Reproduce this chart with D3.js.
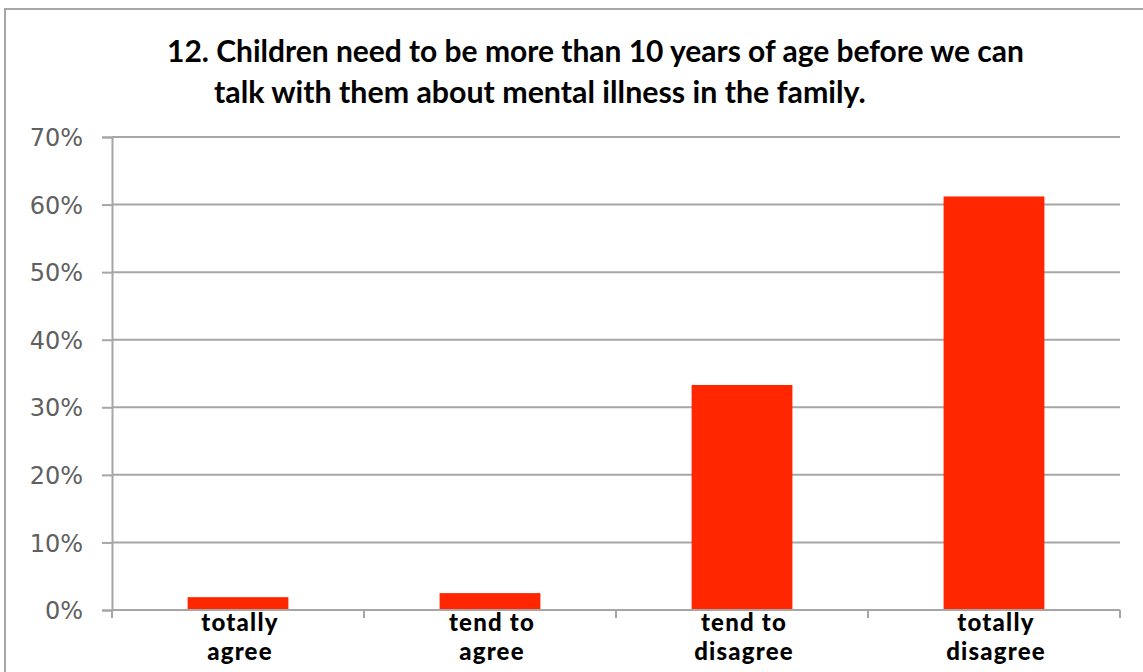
<!DOCTYPE html>
<html>
<head>
<meta charset="utf-8">
<script src="https://cdn.jsdelivr.net/npm/d3@7"></script>
<style>
  html, body { margin: 0; padding: 0; background: #fff; }
  svg { display: block; }
</style>
</head>
<body>
<svg id="chart" width="1143" height="672"></svg>
<script>
const categories = [["totally", "agree"], ["tend to", "agree"], ["tend to", "disagree"], ["totally", "disagree"]];
const values = [0.019, 0.025, 0.333, 0.612];
const yTicks = [0, 0.1, 0.2, 0.3, 0.4, 0.5, 0.6, 0.7];
const titleLines = ["12. Children need to be more than 10 years of age before we can",
                    "talk with them about mental illness in the family."];

(function () {
const svg = d3.select("#chart");
const W = 1143, H = 672;
const pLeft = 112, pRight = 1120, pTop = 137, pBottom = 610;

// outer border
svg.append("rect").attr("x", 5).attr("y", 9).attr("width", W + 10).attr("height", H + 10)
  .attr("fill", "#fff").attr("stroke", "#a6a6a6").attr("stroke-width", 2);

const labels = categories.map(c => c.join(" "));
const x = d3.scaleBand().domain(labels).range([pLeft, pRight]).paddingInner(0.6).paddingOuter(0.3);
const y = d3.scaleLinear().domain([0, 0.7]).range([pBottom, pTop]);

// gridlines
svg.append("g").selectAll("line").data(yTicks.filter(d => d > 0)).join("line")
  .attr("x1", pLeft).attr("x2", pRight)
  .attr("y1", d => y(d)).attr("y2", d => y(d))
  .attr("stroke", "#a6a6a6").attr("stroke-width", 2);

// y axis
const yAxis = svg.append("g").attr("transform", `translate(${pLeft},0)`)
  .call(d3.axisLeft(y).tickValues(yTicks).tickFormat(d3.format(".0%")).tickSize(10).tickPadding(19));
yAxis.select(".domain").attr("stroke", "#a6a6a6").attr("stroke-width", 2);
yAxis.selectAll(".tick line").attr("stroke", "#a6a6a6").attr("stroke-width", 2);
yAxis.selectAll(".tick text").attr("fill", "#606060").attr("dy", "0.36em")
  .style("font-family", "'DejaVu Sans', Verdana, sans-serif").style("font-size", "24px");

// bars
svg.append("g").selectAll("rect").data(values).join("rect")
  .attr("x", (d, i) => x(labels[i]))
  .attr("width", x.bandwidth())
  .attr("y", d => y(d))
  .attr("height", d => y(0) - y(d))
  .attr("fill", "#ff2600");

// x axis line and ticks at band boundaries
const xEdges = d3.range(labels.length + 1).map(i => pLeft + i * (pRight - pLeft) / labels.length);
svg.append("line").attr("x1", pLeft).attr("x2", pRight).attr("y1", pBottom).attr("y2", pBottom)
  .attr("stroke", "#a6a6a6").attr("stroke-width", 2);
svg.append("g").selectAll("line").data(xEdges).join("line")
  .attr("x1", d => d).attr("x2", d => d).attr("y1", pBottom).attr("y2", pBottom + 8)
  .attr("stroke", "#a6a6a6").attr("stroke-width", 2);

// category labels (each line its own text)
const boldFont = "Lato, 'Open Sans', sans-serif";
const catG = svg.append("g");
const fs = 24;
categories.forEach((c, i) => {
  const cx = x(labels[i]) + x.bandwidth() / 2 + 2;
  [631, 660].forEach((by, j) => {
    catG.append("text").attr("text-anchor", "middle").attr("x", cx).attr("y", by)
      .style("font-family", boldFont).style("font-weight", "900").style("font-size", fs + "px")
      .style("letter-spacing", "1.2px")
      .attr("fill", "#000").text(c[j]);
  });
});

// title
const titleSpecs = [{x0: 167, x1: 1024, y: 62}, {x0: 214, x1: 866, y: 103}];
titleLines.forEach((line, i) => {
  const s = titleSpecs[i];
  const t = svg.append("text").attr("x", s.x0).attr("y", s.y)
    .style("font-family", boldFont).style("font-weight", "bold").style("font-size", "27px")
    .attr("fill", "#000").text(line);
  const w = t.node().getComputedTextLength();
  t.style("font-size", (27 * (s.x1 - s.x0) / w) + "px");
});
})();
</script>
</body>
</html>
